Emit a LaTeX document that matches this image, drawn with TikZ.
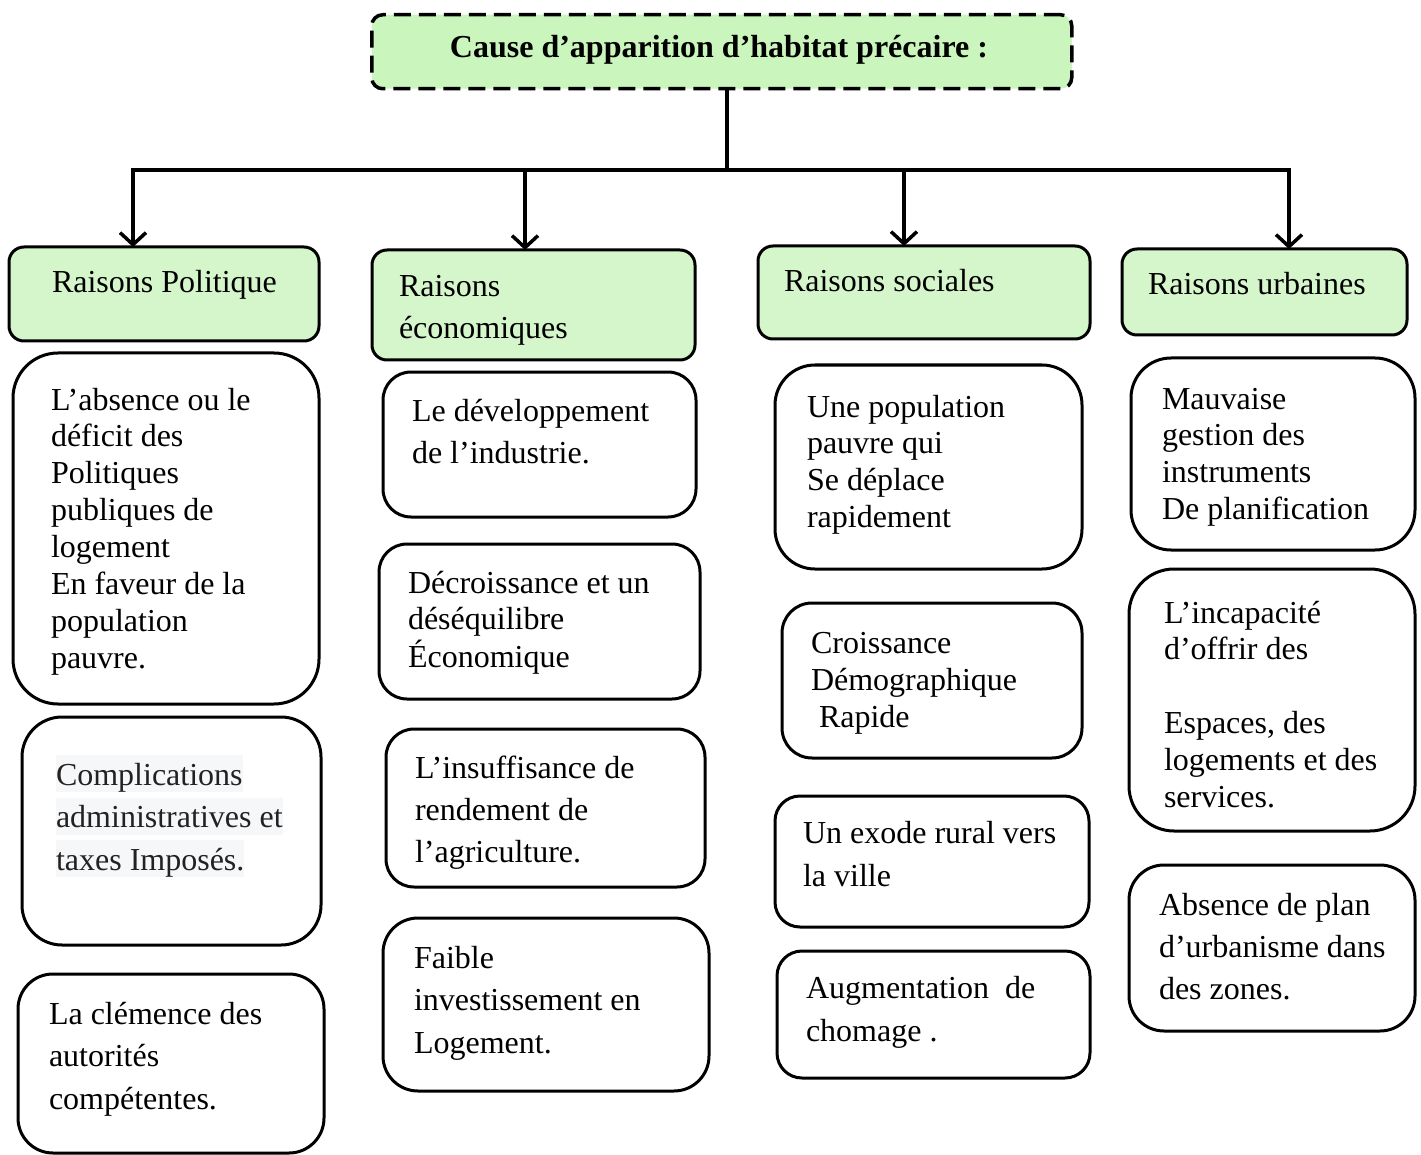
\documentclass[tikz,border=0pt]{standalone}
\usepackage{fontspec}
\setmainfont{Liberation Serif}
\usetikzlibrary{arrows.meta}
\definecolor{hdrgreen}{HTML}{D5F5CB}
\definecolor{topgreen}{HTML}{CAF5BD}
\definecolor{hlgray}{HTML}{F6F7F8}
\definecolor{txtgray}{HTML}{222222}
\newcommand\mylines[2]{{\fontsize{32}{#1}\selectfont\begin{tabular}[t]{@{}l@{}}#2\end{tabular}}}
\newcommand\hl[1]{{\setlength\fboxsep{0pt}\colorbox{hlgray}{\rule[-7pt]{0pt}{37pt}#1}}}
\tikzset{
  box/.style={draw=black, line width=3pt, fill=white, inner sep=0pt, outer sep=0pt, anchor=north west},
  hdr/.style={box, fill=hdrgreen, rounded corners=15pt},
  txt/.style={anchor=base west, inner sep=0pt, outer sep=0pt},
  conn/.style={line width=3.5pt, draw=black, line join=miter},
  tip/.tip={Straight Barb[length=12pt,width=26pt]}
}
\newcommand\bx[7]{\node[#7, rounded corners=#6pt, minimum width={(#4-#2)*1pt}, minimum height={(#5-#3)*1pt}] (#1) at (#2,#3) {};}
\begin{document}
\begin{tikzpicture}[x=1pt,y=-1pt]
\useasboundingbox (0,0) rectangle (1421,1155);
% top box
\node[draw=black, line width=3.5pt, dash pattern=on 17pt off 8pt, fill=topgreen, rounded corners=11pt,
      minimum width=700pt, minimum height=74pt, anchor=north west, inner sep=0pt] (top) at (370,13) {};
\node[anchor=base, inner sep=0pt, font=\bfseries\fontsize{32}{36}\selectfont] (ttl) at (719,58) {Cause d’apparition d’habitat précaire :};
% headers
\bx{h1}{9}{247}{319}{341}{15}{hdr}
\bx{h2}{372}{250}{695}{360}{15}{hdr}
\bx{h3}{758}{246}{1090}{339}{15}{hdr}
\bx{h4}{1122}{249}{1407}{335}{15}{hdr}
\node[txt] (th1) at (52,293) {\mylines{37}{Raisons Politique}};
\node[txt] (th2) at (399,297) {\mylines{42}{Raisons\\économiques}};
\node[txt] (th3) at (784,292) {\mylines{37}{Raisons sociales}};
\node[txt] (th4) at (1148,295) {\mylines{37}{Raisons urbaines}};
% connectors
\coordinate (j) at (727,170);
\coordinate (a1) at (133,170);
\coordinate (a2) at (525,170);
\coordinate (a3) at (904,170);
\coordinate (a4) at (1289,170);
\draw[conn] (top.south -| j) -- (j);
\draw[conn, {tip}-{tip}] (a1 |- h1.north) -- (a1) -- (a4) -- (a4 |- h4.north);
\draw[conn, -{tip}] (a2) -- (a2 |- h2.north);
\draw[conn, -{tip}] (a3) -- (a3 |- h3.north);
% column 1
\bx{b1}{13}{353}{319}{704}{45}{box}
\bx{b2}{22}{717}{321}{945}{40}{box}
\bx{b3}{18}{974}{324}{1153}{35}{box}
\node[txt] (tb1) at (51,410) {\mylines{36.9}{L’absence ou le\\déficit des\\Politiques\\publiques de\\logement\\En faveur de la\\population\\pauvre.}};
\node[txt, text=txtgray] (tb2) at (56,785) {\mylines{42}{\hl{Complications}\\\hl{administratives et}\\\hl{taxes Imposés.}}};
\node[txt] (tb3) at (49,1024) {\mylines{42.5}{La clémence des\\autorités\\compétentes.}};
% column 2
\bx{c1}{383}{372}{696}{517}{28}{box}
\bx{c2}{379}{544}{700}{699}{28}{box}
\bx{c3}{386}{729}{705}{887}{28}{box}
\bx{c4}{383}{918}{709}{1091}{35}{box}
\node[txt] (tc1) at (412,421) {\mylines{42}{Le développement\\de l’industrie.}};
\node[txt] (tc2) at (408,593) {\mylines{36.5}{Décroissance et un\\déséquilibre\\Économique}};
\node[txt] (tc3) at (415,778) {\mylines{42}{L’insuffisance de\\rendement de\\l’agriculture.}};
\node[txt] (tc4) at (414,968) {\mylines{42.5}{Faible\\investissement en\\Logement.}};
% column 3
\bx{d1}{775}{365}{1082}{569}{40}{box}
\bx{d2}{782}{603}{1082}{758}{30}{box}
\bx{d3}{775}{796}{1089}{927}{25}{box}
\bx{d4}{777}{951}{1090}{1078}{25}{box}
\node[txt] (td1) at (807,417) {\mylines{36.7}{Une population\\pauvre qui\\Se déplace\\rapidement}};
\node[txt] (td2) at (811,653) {\mylines{37}{Croissance\\Démographique\\\hspace{8pt}Rapide}};
\node[txt] (td3) at (803,843) {\mylines{43}{Un exode rural vers\\la ville}};
\node[txt] (td4) at (806,998) {\mylines{43}{Augmentation\ \ de\\chomage .}};
% column 4
\bx{e1}{1131}{358}{1415}{550}{40}{box}
\bx{e2}{1129}{569}{1415}{831}{45}{box}
\bx{e3}{1129}{865}{1415}{1031}{35}{box}
\node[txt] (te1) at (1162,409) {\mylines{36.9}{Mauvaise\\gestion des\\instruments\\De planification}};
\node[txt] (te2) at (1164,623) {\mylines{36.8}{L’incapacité\\d’offrir des\\\mbox{}\\Espaces, des\\logements et des\\services.}};
\node[txt] (te3) at (1159,915) {\mylines{42}{Absence de plan\\d’urbanisme dans\\des zones.}};
\end{tikzpicture}
\end{document}
